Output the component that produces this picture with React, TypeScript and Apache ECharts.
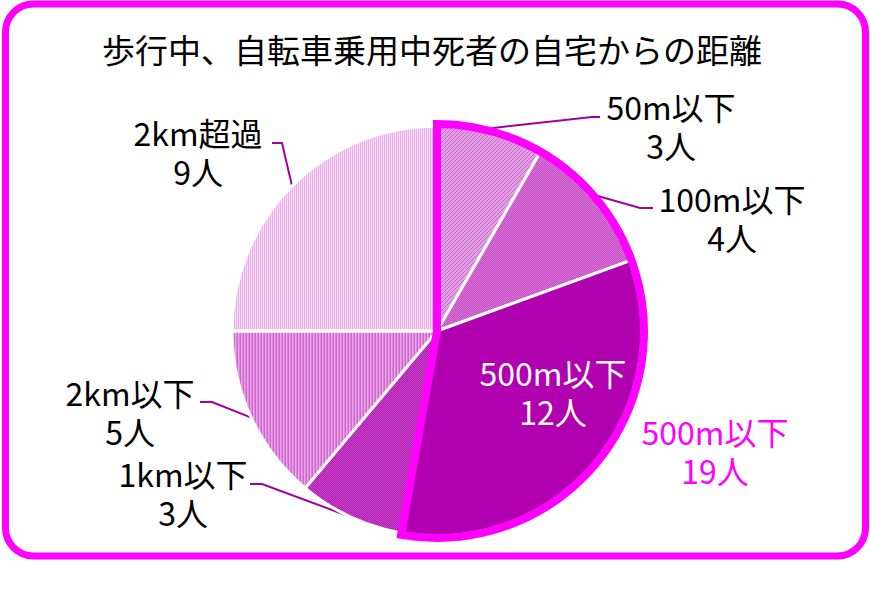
import React, { useEffect, useRef } from 'react';
import * as echarts from 'echarts';

const titleText = '歩行中、自転車乗用中死者の自宅からの距離';
const categories = ['50m以下', '100m以下', '500m以下', '1km以下', '2km以下', '2km超過'];
const counts = [3, 4, 12, 3, 5, 9];
const groupName = '500m以下';
const groupCount = 19;
const unit = '人';

const FONT = "'Noto Sans CJK JP', 'Noto Sans', sans-serif";

// texture specs: [pattern kind, colours]
const textures: { kind: string; colors: string[] }[] = [
  { kind: 'diag', colors: ['#e29ee2', '#cc6acc'] },
  { kind: 'check', colors: ['#c650c6', '#d672d6'] },
  { kind: 'solid', colors: ['#b000b0'] },
  { kind: 'check', colors: ['#b41cb4', '#c644c6'] },
  { kind: 'vstripe', colors: ['#d264d2', '#e8a8e8', '#dc86dc'] },
  { kind: 'vstripe', colors: ['#e8b4e8', '#f6d8f6'] },
];

const labelPos: { x: number; y: number; line: number[][] | null }[] = [
  { x: 671, y: 125, line: [[592, 117], [600, 117]] },
  { x: 732, y: 217, line: [[640, 208], [653, 208]] },
  { x: 553, y: 391, line: null },
  { x: 183, y: 492, line: [[262, 484], [250, 484]] },
  { x: 130, y: 411, line: [[212, 402], [200, 402]] },
  { x: 198, y: 151, line: [[282, 143], [272, 143]] },
];

function makeFill(t: { kind: string; colors: string[] }): any {
  if (t.kind === 'solid') return t.colors[0];
  const c = document.createElement('canvas');
  const ctx = c.getContext('2d');
  if (!ctx) return t.colors[0];
  if (t.kind === 'diag') {
    c.width = 4; c.height = 4;
    ctx.fillStyle = t.colors[0]; ctx.fillRect(0, 0, 4, 4);
    ctx.fillStyle = t.colors[1];
    for (let i = 0; i < 4; i++) ctx.fillRect(3 - i, i, 1, 1);
  } else if (t.kind === 'check') {
    c.width = 2; c.height = 2;
    ctx.fillStyle = t.colors[0]; ctx.fillRect(0, 0, 2, 2);
    ctx.fillStyle = t.colors[1];
    ctx.fillRect(0, 0, 1, 1); ctx.fillRect(1, 1, 1, 1);
  } else {
    c.width = t.colors.length; c.height = 2;
    t.colors.forEach((col, i) => { ctx.fillStyle = col; ctx.fillRect(i, 0, 1, 2); });
  }
  return { image: c, repeat: 'repeat' };
}

export default function App() {
  const ref = useRef<HTMLDivElement>(null);
  useEffect(() => {
    if (!ref.current) return;
    const chart = echarts.init(ref.current, null, { renderer: 'svg' });
    const total = counts.reduce((a, b) => a + b, 0);
    const option: any = {
      animation: false,
      backgroundColor: '#ffffff',
      title: {
        text: titleText,
        left: 97,
        top: 27,
        textStyle: { fontSize: 33, fontWeight: 'normal', color: '#000', fontFamily: FONT },
      },
      graphic: [
        {
          type: 'rect',
          shape: { x: 5.5, y: 4, width: 860, height: 552, r: 28 },
          style: { fill: 'none', stroke: '#ff00ff', lineWidth: 7 },
          z: 100,
        },
      ],
      series: [
        {
          type: 'pie',
          center: [437, 331],
          radius: 205,
          startAngle: 90,
          clockwise: true,
          avoidLabelOverlap: false,
          itemStyle: { borderColor: '#ffffff', borderWidth: 3 },
          label: {
            show: true,
            position: 'outside',
            formatter: (p: any) => `${p.name}\n${p.value}${unit}`,
            fontSize: 32,
            lineHeight: 39,
            color: '#000',
            fontFamily: FONT,
            align: 'center',
          },
          labelLine: { show: true, lineStyle: { color: '#a000a0', width: 2 } },
          labelLayout: (params: any) => {
            const lp = labelPos[params.dataIndex];
            if (!lp) return {};
            const res: any = { x: lp.x, y: lp.y, align: 'center', verticalAlign: 'middle' };
            if (lp.line && params.labelLinePoints) {
              const p0 = params.labelLinePoints[0];
              const p1 = params.labelLinePoints[1];
              const dx = p1[0] - p0[0];
              const dy = p1[1] - p0[1];
              const d = Math.sqrt(dx * dx + dy * dy) || 1;
              const push = params.dataIndex < 2 ? 5 : 0;
              const a = [p0[0] + (dx / d) * push, p0[1] + (dy / d) * push];
              res.labelLinePoints = [a, lp.line[0], lp.line[1]];
            }
            return res;
          },
          data: categories.map((c, i) => ({
            name: c,
            value: counts[i],
            itemStyle: { color: makeFill(textures[i]) },
            ...(i === 2
              ? { label: { color: '#ffffff' }, labelLine: { show: false } }
              : {}),
          })),
        },
        {
          type: 'pie',
          center: [437, 331],
          radius: 207,
          startAngle: 90,
          clockwise: true,
          silent: true,
          avoidLabelOverlap: false,
          z: 5,
          label: {
            show: true,
            formatter: (p: any) => `${p.name}\n${p.value}${unit}`,
            fontSize: 32,
            lineHeight: 39,
            color: '#ff00ff',
            fontFamily: FONT,
            align: 'center',
          },
          labelLine: { show: false },
          labelLayout: (params: any) =>
            params.dataIndex === 0 ? { x: 715, y: 450, align: 'center', verticalAlign: 'middle' } : {},
          data: [
            {
              name: groupName,
              value: groupCount,
              itemStyle: { color: 'rgba(0,0,0,0)', borderColor: '#ff00ff', borderWidth: 8, borderJoin: 'miter' },
            },
            {
              name: 'rest',
              value: total - groupCount,
              itemStyle: { color: 'rgba(0,0,0,0)', borderWidth: 0 },
              label: { show: false },
            },
          ],
        },
      ],
    };
    chart.setOption(option);
    return () => chart.dispose();
  }, []);
  return (
    <div
      ref={ref}
      style={{ position: 'fixed', left: 0, top: 0, width: 870, height: 600, background: '#fff' }}
    />
  );
}
